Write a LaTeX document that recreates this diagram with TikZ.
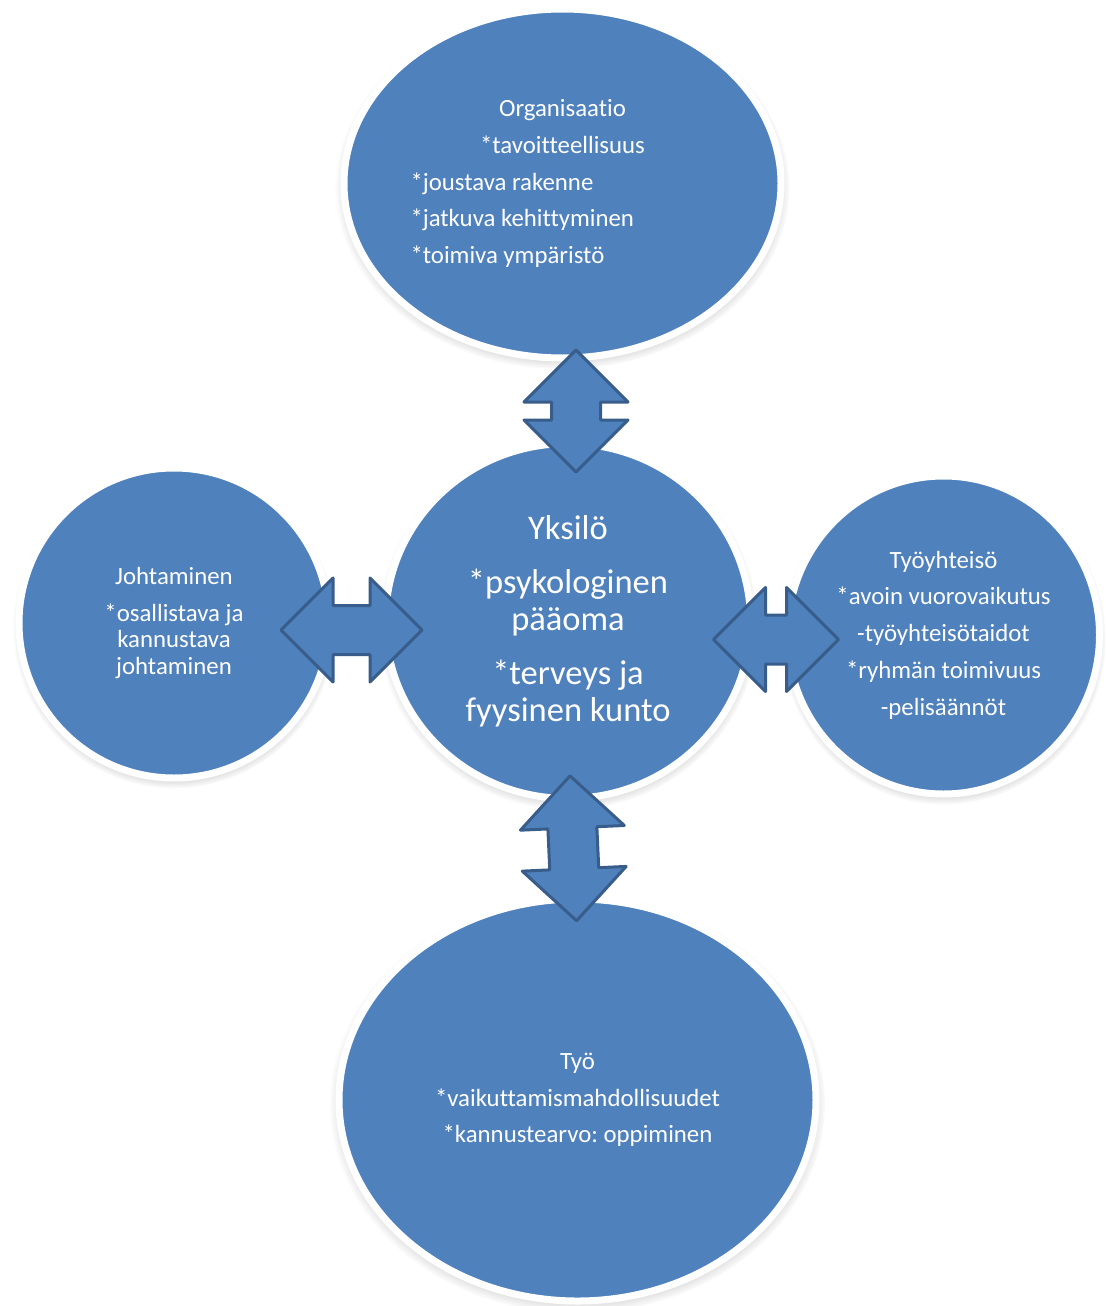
\documentclass[tikz,border=0pt]{standalone}
\usepackage{fontspec}
\setmainfont{Carlito}[Ligatures=NoCommon]
\frenchspacing
\usetikzlibrary{shapes.geometric,shapes.arrows,shadows,fadings}

\begin{document}
\begin{tikzpicture}[x=1pt,y=-1pt,
    hyvinvointi_pallo/.style={shape=ellipse,draw=white,line width=7pt,fill=hyvinvointi_bg,inner sep=0pt,text=white,circular drop shadow={shadow scale=1.04,shadow xshift=0pt,shadow yshift=-4pt,opacity=.7}},
    hyvinvointi_nuoli/.style={shape=double arrow,draw=hyvinvointi_reuna,fill=hyvinvointi_bg,line width=3pt,line join=round,inner xsep=0pt,inner ysep=23pt,double arrow head extend=27.5pt,minimum width=1pt}]
    \definecolor{hyvinvointi_bg}{RGB}{79,129,189}
    \definecolor{hyvinvointi_reuna}{RGB}{56,93,138}
    \useasboundingbox (0,0) rectangle (1107,1306);
    \node[hyvinvointi_pallo,minimum width=437pt,minimum height=349pt,text width=304pt,align=left,font=\fontsize{24.8}{36.6}\selectfont] (org) at (562.5,183.5) {\spaceskip=0pt\relax\makebox[304pt][c]{Organisaatio}\\\makebox[304pt][c]{*tavoitteellisuus}\\{}*joustava rakenne\\{}*jatkuva kehittyminen\\{}*toimiva ympäristö};
    \node[hyvinvointi_pallo,minimum width=365pt,minimum height=355pt,align=center,font=\fontsize{34.5}{37}\selectfont] (yksilo) at (568,621) {\spaceskip=0pt\relax Yksilö\\[17pt]{}*psykologinen\\pääoma\\[17pt]{}*terveys ja\\fyysinen kunto};
    \node[hyvinvointi_pallo,minimum width=310pt,minimum height=310pt,align=center,font=\fontsize{24.8}{26.2}\selectfont] (johto) at (174,623) {\spaceskip=0pt\relax Johtaminen\\[10.5pt]{}*osallistava ja\\kannustava\\johtaminen};
    \node[hyvinvointi_pallo,minimum width=312pt,minimum height=318pt,align=center,font=\fontsize{24.8}{36.8}\selectfont] (yhteiso) at (943.5,635) {\spaceskip=0pt\relax Työyhteisö\\{}*avoin vuorovaikutus\\-työyhteisötaidot\\{}*ryhmän toimivuus\\-pelisäännöt};
    \node[hyvinvointi_pallo,minimum width=477pt,minimum height=402pt,align=center,font=\fontsize{24.8}{36.5}\selectfont] (tyo) at (577.5,1100) {\spaceskip=0pt\xspaceskip=0pt\relax Työ\\{}*vaikuttamismahdollisuudet\\{}*kannustearvo: oppiminen};
    \node[hyvinvointi_nuoli,rotate=90,minimum height=122pt] (nuoli_org) at (576,411) {};
    \node[hyvinvointi_nuoli,minimum height=141pt] (nuoli_johto) at (351.5,630) {};
    \node[hyvinvointi_nuoli,minimum height=125pt] (nuoli_yhteiso) at (776,639.5) {};
    \node[hyvinvointi_nuoli,rotate=92.6,minimum height=145pt] (nuoli_tyo) at (573.3,848.3) {};
\end{tikzpicture}
\end{document}
